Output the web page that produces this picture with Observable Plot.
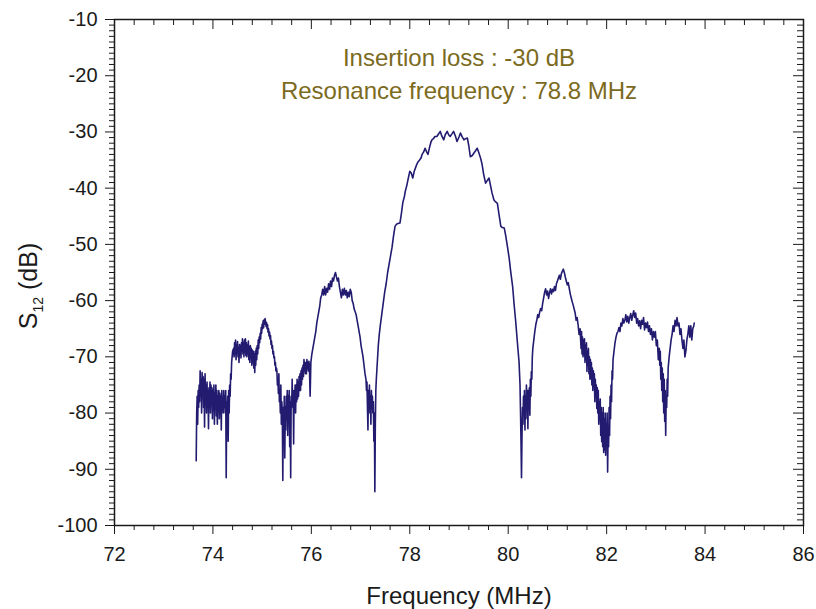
<!DOCTYPE html>
<html><head><meta charset="utf-8">
<script src="https://cdn.jsdelivr.net/npm/d3@7"></script>
<script src="https://cdn.jsdelivr.net/npm/@observablehq/plot@0.6"></script>
<style>body{margin:0;background:#fff;}</style>
</head><body><div id="chart"></div>
<script>
// ---- data (frequency MHz, S12 dB) ----
const segFarLeft = [[73.66,-88.5],[73.67,-80],[73.68,-77],[73.69,-82],[73.70,-76],[73.71,-79],[73.72,-75],[73.73,-78],[73.74,-72.5],[73.75,-77],[73.76,-74],[73.77,-80],[73.78,-72.8],[73.79,-76],[73.80,-73.5],[73.81,-79],[73.82,-74],[73.83,-82.5],[73.84,-73],[73.85,-78],[73.86,-75],[73.87,-80],[73.88,-74.5],[73.89,-78.5],[73.90,-76],[73.91,-82.8],[73.92,-75.5],[73.93,-79],[73.94,-74.5],[73.95,-80],[73.96,-75],[73.97,-78],[73.98,-75.5],[73.99,-81],[74.00,-76],[74.01,-79.5],[74.02,-75],[74.03,-82],[74.04,-76.5],[74.05,-79],[74.06,-75],[74.07,-80.5],[74.08,-76],[74.09,-82],[74.10,-77],[74.11,-79],[74.12,-76],[74.13,-81],[74.14,-76.5],[74.15,-80],[74.16,-77],[74.17,-83],[74.18,-76],[74.19,-79],[74.20,-77.5],[74.21,-80],[74.22,-76],[74.23,-79],[74.24,-77],[74.25,-80],[74.26,-76],[74.27,-91.5],[74.28,-78],[74.29,-80],[74.30,-77],[74.31,-85],[74.32,-76],[74.33,-80],[74.34,-75],[74.35,-77],[74.36,-73],[74.37,-74],[74.38,-71],[74.39,-70],[74.40,-69],[74.42,-68.5]];
const segLeft = [[74.43,-70],[74.44,-67.5],[74.45,-69.5],[74.46,-67],[74.47,-70.5],[74.48,-68],[74.49,-69],[74.50,-67.3],[74.51,-70],[74.52,-68.5],[74.53,-71],[74.54,-67.8],[74.55,-69.5],[74.56,-68],[74.57,-70.2],[74.58,-67.5],[74.59,-69],[74.60,-66.8],[74.61,-69.5],[74.62,-67.5],[74.63,-70],[74.64,-67],[74.65,-69.2],[74.66,-66.8],[74.67,-69.8],[74.68,-67.5],[74.69,-70],[74.70,-68],[74.71,-69.5],[74.72,-67.2],[74.73,-70.5],[74.74,-68.2],[74.75,-71],[74.76,-68],[74.77,-70],[74.78,-68.5],[74.79,-71.5],[74.80,-68.8],[74.81,-71],[74.82,-69],[74.83,-72],[74.84,-69.5],[74.85,-72.8],[74.86,-69],[74.87,-71.5],[74.88,-68.5],[74.89,-70.5],[74.90,-68],[74.91,-69.5],[74.92,-67],[74.93,-68.5],[74.94,-66.5],[74.95,-67.5],[74.96,-65.8],[74.97,-66.8],[74.98,-64.8],[74.99,-65.8],[75.00,-64.2],[75.01,-65],[75.02,-63.6],[75.03,-64.8],[75.04,-63.4],[75.05,-64.2],[75.06,-63.2],[75.07,-63.8],[75.08,-64.6],[75.09,-63.9],[75.10,-65],[75.11,-64.3],[75.12,-65.6],[75.13,-65],[75.14,-66.3],[75.15,-65.6],[75.16,-66.8],[75.17,-66.2],[75.18,-67.8],[75.19,-67.2],[75.20,-68.5],[75.21,-68],[75.22,-69.5],[75.23,-69],[75.24,-70.2],[75.25,-70],[75.26,-71.5],[75.27,-71],[75.28,-72.5],[75.29,-72]];
const segMidLeft = [[75.30,-72.5],[75.31,-75],[75.32,-74],[75.33,-76.5],[75.34,-73],[75.35,-78],[75.36,-77],[75.37,-80],[75.38,-75],[75.39,-82],[75.40,-78],[75.41,-80],[75.42,-92],[75.43,-79],[75.44,-85],[75.45,-77],[75.46,-88],[75.47,-79],[75.48,-83],[75.49,-77],[75.50,-81],[75.51,-76],[75.52,-84],[75.53,-77],[75.54,-80],[75.55,-76],[75.56,-86],[75.57,-78],[75.58,-91.5],[75.59,-77],[75.60,-79],[75.61,-74],[75.62,-78],[75.63,-76],[75.64,-85.5],[75.65,-76],[75.66,-79],[75.67,-75],[75.68,-80],[75.69,-75],[75.70,-78],[75.71,-74],[75.72,-77.5],[75.73,-74.5],[75.74,-77],[75.75,-73.5],[75.76,-76],[75.77,-73],[75.78,-76],[75.79,-72.5],[75.80,-75],[75.81,-72],[75.82,-74],[75.83,-71.5],[75.84,-73.5],[75.85,-70.5],[75.86,-72.5],[75.87,-71],[75.88,-73],[75.89,-71],[75.90,-73],[75.91,-70.5],[75.92,-72],[75.93,-71],[75.94,-72.5],[75.95,-70.8],[75.96,-71.5],[75.975,-77],[75.99,-71],[76.01,-69.5],[76.03,-68.5],[76.05,-67.5],[76.07,-66.5],[76.09,-65.5],[76.11,-64],[76.13,-63],[76.15,-62],[76.17,-61],[76.19,-59.5],[76.21,-59],[76.23,-58],[76.25,-59],[76.27,-57.5],[76.29,-59],[76.31,-57.8],[76.33,-58.5],[76.35,-57],[76.37,-58],[76.39,-56.5],[76.41,-57.5],[76.43,-56],[76.45,-56.5],[76.47,-55.5],[76.49,-55],[76.51,-55.8],[76.53,-56.5],[76.55,-56],[76.57,-57.5],[76.59,-58.5],[76.61,-59.5],[76.63,-58],[76.65,-59],[76.67,-57.8],[76.69,-59],[76.71,-58.2],[76.73,-59.5],[76.75,-58.5],[76.77,-59.3],[76.79,-58],[76.81,-58.5],[76.83,-60],[76.85,-60.5],[76.87,-61.5],[76.89,-62],[76.91,-62.5],[76.93,-63.5],[76.95,-64.5],[76.97,-65.5],[76.99,-66.5],[77.01,-68],[77.03,-69],[77.05,-70],[77.07,-71.5],[77.09,-73],[77.11,-74],[77.12,-76],[77.13,-74.5],[77.14,-79],[77.15,-83],[77.16,-76],[77.17,-78],[77.18,-75],[77.19,-80],[77.20,-77],[77.21,-82],[77.22,-76],[77.23,-79],[77.24,-77],[77.25,-80],[77.26,-78],[77.27,-85],[77.28,-80],[77.29,-94],[77.30,-82],[77.31,-76],[77.32,-74]];
const segMain = [[77.34,-71],[77.36,-68],[77.38,-66],[77.40,-64.5],[77.43,-62.5],[77.46,-60.5],[77.49,-58.5],[77.52,-57],[77.55,-55],[77.58,-53.5],[77.61,-52],[77.64,-50.5],[77.67,-48.5],[77.70,-46.8],[77.73,-46.4],[77.76,-46.3],[77.80,-46.2],[77.83,-44.5],[77.86,-42.5],[77.89,-41.5],[77.91,-40.5],[77.94,-39.5],[77.97,-38.2],[78.00,-37],[78.03,-37.3],[78.06,-38.2],[78.09,-37],[78.12,-36.3],[78.14,-35.8],[78.17,-35.3],[78.20,-35],[78.23,-34.6],[78.25,-34],[78.28,-33.6],[78.31,-32.9],[78.34,-33.5],[78.37,-34],[78.40,-32.8],[78.43,-31.8],[78.45,-31.4],[78.48,-31.2],[78.51,-30.8],[78.55,-30.8],[78.58,-30.4],[78.62,-29.9],[78.65,-30.7],[78.69,-31.4],[78.72,-30.5],[78.76,-29.9],[78.79,-30.5],[78.82,-30.8],[78.86,-30.3],[78.89,-29.9],[78.93,-30.8],[78.96,-31.7],[79.00,-30.9],[79.03,-30.2],[79.06,-30.8],[79.10,-31.4],[79.13,-31.2],[79.17,-31.1],[79.20,-32.5],[79.23,-34.4],[79.27,-34.2],[79.30,-33.8],[79.34,-33.3],[79.37,-32.9],[79.40,-33.6],[79.44,-34.7],[79.47,-35.8],[79.50,-37.5],[79.54,-39.1],[79.57,-38.7],[79.61,-38.2],[79.64,-39.5],[79.67,-40.8],[79.71,-42.1],[79.74,-42.4],[79.78,-42.7],[79.81,-44.5],[79.85,-46.8],[79.88,-47],[79.92,-47.1],[79.95,-48.5],[79.99,-50.7],[80.02,-52.5],[80.05,-54.8],[80.09,-57.5],[80.12,-60.7],[80.15,-63.5],[80.19,-67.8],[80.22,-70.9],[80.24,-75],[80.25,-79.8],[80.26,-85],[80.27,-91.5]];
const segRight = [[80.28,-84],[80.29,-79],[80.30,-82],[80.31,-77],[80.32,-80],[80.33,-76],[80.34,-83],[80.35,-77],[80.36,-81],[80.37,-75],[80.38,-79],[80.39,-76],[80.40,-82.8],[80.41,-76],[80.42,-79],[80.43,-75.5],[80.44,-80.4],[80.45,-74],[80.46,-77],[80.47,-72.6],[80.48,-74],[80.49,-70],[80.50,-68.5],[80.52,-67],[80.54,-65.5],[80.56,-64.3],[80.58,-63.5],[80.60,-62.5],[80.62,-63],[80.64,-62],[80.66,-61.4],[80.68,-61.8],[80.70,-60.5],[80.72,-59.5],[80.74,-58.5],[80.76,-57.9],[80.78,-59],[80.80,-58.3],[80.82,-59.6],[80.84,-58.6],[80.86,-57.9],[80.88,-58.8],[80.90,-58],[80.92,-58.4],[80.94,-57.5],[80.96,-58.2],[80.98,-57],[81.00,-56.5],[81.02,-56],[81.04,-55.5],[81.06,-56.2],[81.08,-55.2],[81.10,-54.8],[81.12,-54.4],[81.14,-55],[81.16,-55.8],[81.18,-56.5],[81.20,-57.2],[81.22,-56.8],[81.24,-57.8],[81.26,-58.8],[81.28,-59.5],[81.30,-60.2],[81.32,-60.8],[81.34,-61.5],[81.36,-62.2],[81.38,-63.5],[81.40,-63],[81.42,-64.3],[81.44,-66],[81.46,-65],[81.48,-68.5],[81.49,-65.5],[81.50,-69.5],[81.51,-66.5],[81.52,-70],[81.53,-67],[81.54,-69.6],[81.55,-66.8],[81.56,-71],[81.57,-68],[81.58,-70.5],[81.59,-67.5],[81.60,-72.6],[81.61,-69],[81.62,-71.5],[81.63,-68.5],[81.64,-73],[81.65,-70],[81.66,-74],[81.67,-70.5],[81.68,-73.9],[81.69,-71],[81.70,-75],[81.71,-72],[81.72,-76],[81.73,-72.5],[81.74,-75],[81.75,-73],[81.76,-78],[81.77,-74],[81.78,-77],[81.79,-75],[81.80,-79.2],[81.81,-75.5],[81.82,-80],[81.83,-76],[81.84,-82],[81.85,-78],[81.86,-81],[81.87,-77.5],[81.88,-84],[81.89,-79],[81.90,-85.1],[81.91,-80],[81.92,-86],[81.93,-79],[81.94,-87],[81.95,-81],[81.96,-86.5],[81.97,-80],[81.98,-87.5],[81.99,-82],[82.00,-85],[82.01,-80],[82.02,-90.5],[82.03,-83],[82.04,-86],[82.05,-79],[82.06,-84],[82.07,-77],[82.08,-81],[82.09,-75],[82.10,-78],[82.11,-72.5],[82.12,-74],[82.13,-70.5],[82.15,-69],[82.17,-67.5],[82.19,-66.5],[82.21,-65.8],[82.23,-65.5],[82.25,-64.8],[82.27,-65.5],[82.29,-64],[82.31,-64.5],[82.33,-63.2],[82.35,-64],[82.37,-63.5],[82.39,-62.5],[82.41,-63.8],[82.43,-62.8],[82.45,-64],[82.47,-63],[82.49,-62.3],[82.51,-63.5],[82.53,-62.6],[82.55,-61.8],[82.57,-63],[82.59,-62.2],[82.61,-64],[82.63,-63.2],[82.65,-64.5],[82.67,-63.6],[82.69,-65],[82.71,-63.5],[82.73,-64.2],[82.75,-63],[82.77,-65.2],[82.79,-64],[82.81,-64.8],[82.83,-63.8],[82.85,-65.5],[82.87,-64.5],[82.89,-66],[82.91,-65],[82.93,-67],[82.95,-65.5],[82.97,-66.5],[82.99,-65.5],[83.01,-68],[83.03,-67],[83.05,-70.5],[83.07,-68.5],[83.08,-71.5],[83.09,-69],[83.10,-74],[83.11,-71],[83.12,-76],[83.13,-72],[83.14,-78],[83.15,-73],[83.16,-80],[83.17,-74],[83.18,-81.5],[83.19,-76],[83.20,-84],[83.21,-77],[83.22,-79],[83.23,-74],[83.24,-77],[83.25,-72],[83.27,-70],[83.29,-68.5],[83.31,-67],[83.33,-66],[83.35,-64.5],[83.37,-65.5],[83.39,-63.5],[83.41,-64.5],[83.43,-63],[83.45,-64.5],[83.47,-64],[83.49,-66],[83.51,-65],[83.53,-67],[83.55,-68.5],[83.57,-67],[83.59,-70],[83.61,-69],[83.63,-67],[83.65,-66],[83.67,-64.5],[83.69,-66.5],[83.71,-64.5],[83.73,-67],[83.75,-65],[83.77,-64.5],[83.78,-64]];

const xTickValues = [72, 74, 76, 78, 80, 82, 84, 86];
const yTickValues = [-100, -90, -80, -70, -60, -50, -40, -30, -20, -10];
const noteLines = ["Insertion loss : -30 dB", "Resonance frequency : 78.8 MHz"];
const xTitle = "Frequency (MHz)";

// ---- chart ----
const trace = [...segFarLeft, ...segLeft, ...segMidLeft, ...segMain, ...segRight].map(([f, v]) => ({f, v}));
const xMinor = d3.range(72, 86.001, 0.4).map(d => +d.toFixed(2)).filter(d => !xTickValues.includes(d));
const yMinor = d3.range(-100, -9.999, 1).filter(d => !yTickValues.includes(d));

const W = 816, H = 609, mL = 114, mR = 13, mT = 19, mB = 84;
const innerW = W - mL - mR, innerH = H - mT - mB;
const font = "'Liberation Sans', Arial, Helvetica, sans-serif";
const ink = "#1a1a1a";
const noteColor = "#7b6a20";

const chart = Plot.plot({
  width: W, height: H,
  marginLeft: mL, marginRight: mR, marginTop: mT, marginBottom: mB,
  style: {fontFamily: font, background: "#fff", color: ink, overflow: "visible"},
  x: {domain: [72, 86]},
  y: {domain: [-100, -10]},
  marks: [
    Plot.axisX(xTickValues, {anchor: "bottom", tickSize: 9, tickPadding: 12, fontSize: 20, tickFormat: d => String(d), label: null, stroke: ink}),
    Plot.axisX(xMinor, {anchor: "bottom", tickSize: 5, tickFormat: () => "", label: null, stroke: ink}),
    Plot.axisY(yTickValues, {anchor: "left", tickSize: 9, tickPadding: 8, fontSize: 20, tickFormat: d => String(d), label: null, stroke: ink}),
    Plot.axisY(yMinor, {anchor: "left", tickSize: 5, tickFormat: () => "", label: null, stroke: ink}),
    Plot.ruleX(xTickValues, {insetBottom: innerH - 10, stroke: ink}),
    Plot.ruleX(xMinor, {insetBottom: innerH - 6, stroke: ink}),
    Plot.ruleY(yTickValues, {insetLeft: innerW - 10, stroke: ink}),
    Plot.ruleY(yMinor, {insetLeft: innerW - 6, stroke: ink}),
    Plot.line(trace, {x: "f", y: "v", stroke: "#221b70", strokeWidth: 1.6}),
    Plot.frame({stroke: ink, strokeWidth: 1.5}),
    Plot.text([noteLines[0]], {frameAnchor: "top", dy: 29, fill: noteColor, fontSize: 24}),
    Plot.text([noteLines[1]], {frameAnchor: "top", dy: 62, fill: noteColor, fontSize: 24}),
    Plot.text([xTitle], {frameAnchor: "bottom", dy: 78, fill: ink, fontSize: 24})
  ]
});

const yTitle = d3.select(chart).append("text")
  .attr("transform", "translate(37,286) rotate(-90)")
  .attr("text-anchor", "middle")
  .attr("fill", ink)
  .style("font-family", font)
  .style("font-size", "25px");
yTitle.append("tspan").text("S");
yTitle.append("tspan").attr("dy", 6).style("font-size", "14px").text("12");
yTitle.append("tspan").attr("dy", -6).text(" (dB)");

document.getElementById("chart").appendChild(chart);
</script>
</body></html>
